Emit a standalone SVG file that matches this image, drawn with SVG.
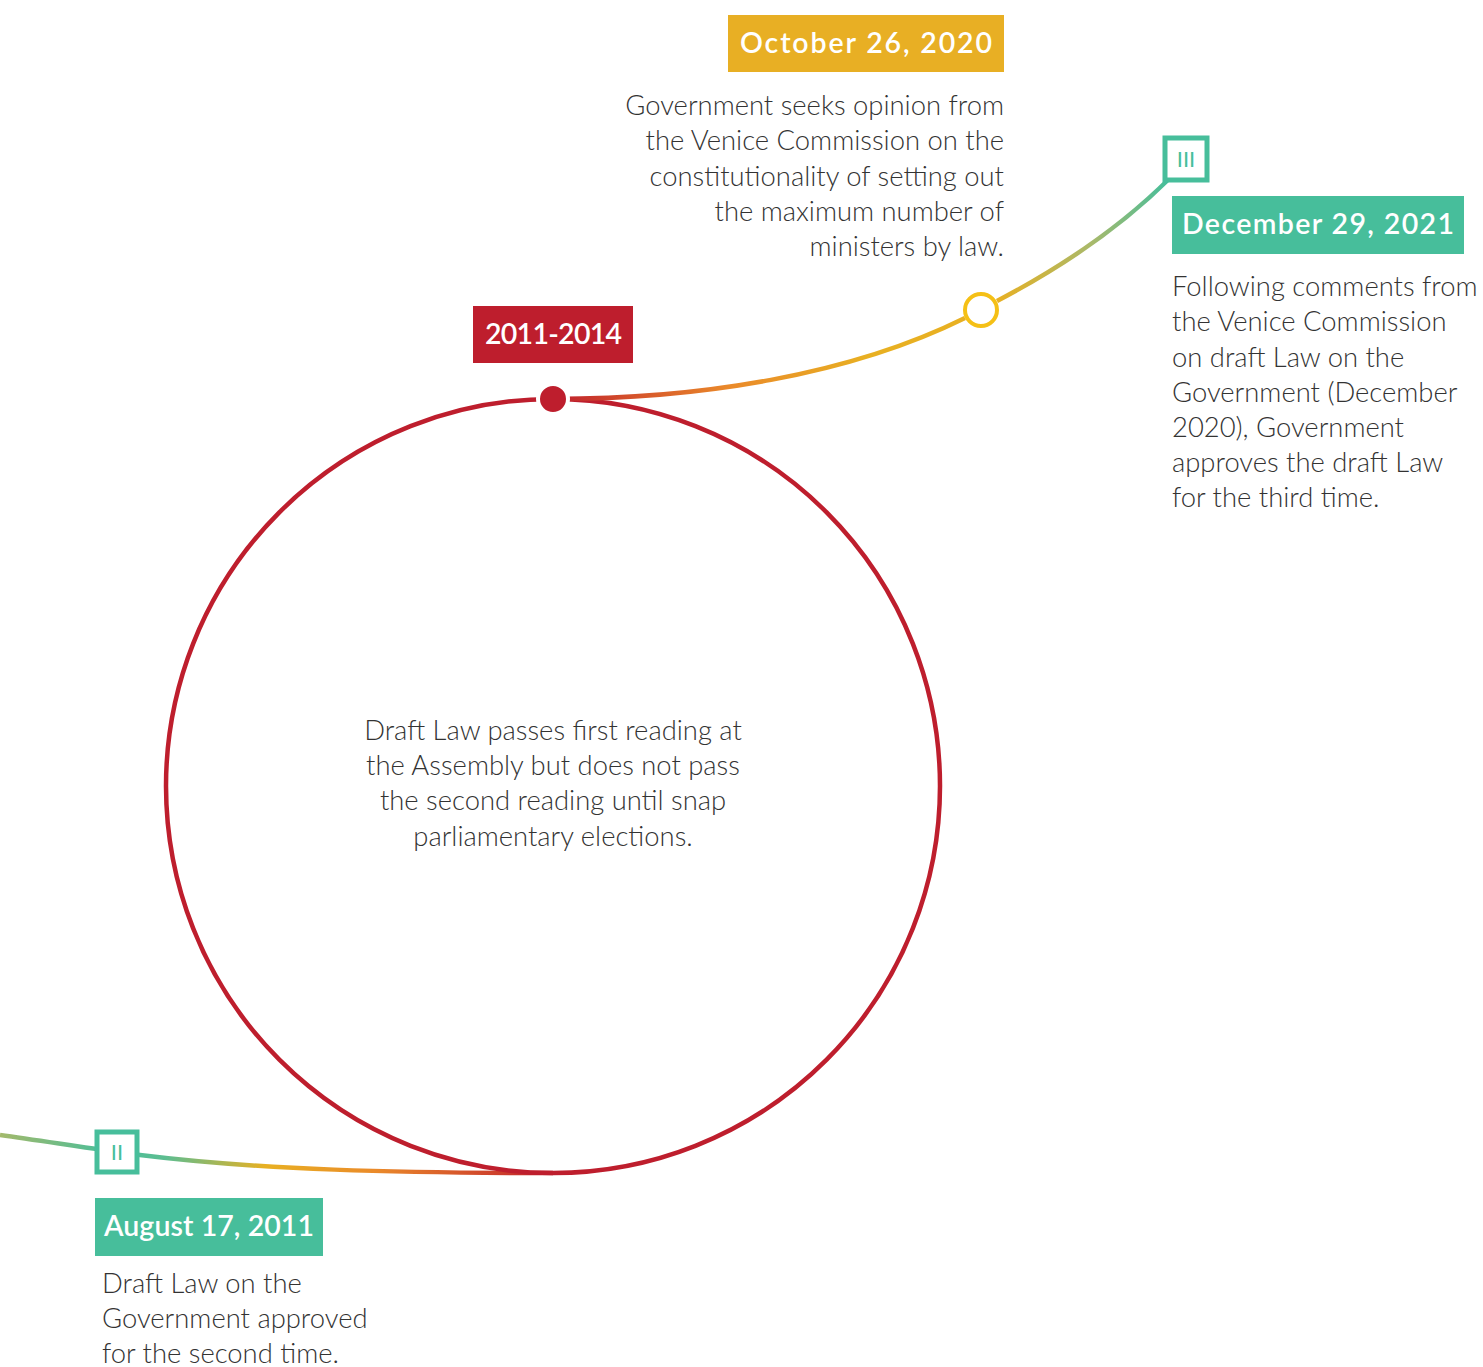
<svg xmlns="http://www.w3.org/2000/svg" width="1483" height="1367" viewBox="0 0 1483 1367">
<defs>
<style>
.body{font-family:Lato,"Open Sans",sans-serif;font-weight:300;font-size:27.4px;fill:#333333}
.lbl{font-family:Lato,"Open Sans",sans-serif;font-weight:600;font-size:28.5px;fill:#ffffff}
.roman{font-family:Lato,"Open Sans",sans-serif;font-weight:400;font-size:22px;fill:#47BE9B}
.box{fill:#ffffff;stroke:#47BE9B;stroke-width:5}
</style>
<linearGradient id="gBot" gradientUnits="userSpaceOnUse" x1="0" y1="0" x2="553" y2="0">
<stop offset="0" stop-color="#a3b96b"/>
<stop offset="0.2" stop-color="#47BE9B"/>
<stop offset="0.3" stop-color="#5dbd90"/>
<stop offset="0.48" stop-color="#E8B022"/>
<stop offset="0.68" stop-color="#EA8A2A"/>
<stop offset="0.85" stop-color="#D4502B"/>
<stop offset="1" stop-color="#BE1E2D"/>
</linearGradient>
<linearGradient id="gTop" gradientUnits="userSpaceOnUse" x1="553" y1="0" x2="1186" y2="0">
<stop offset="0" stop-color="#BE1E2D"/>
<stop offset="0.12" stop-color="#D4502B"/>
<stop offset="0.28" stop-color="#EA8A2A"/>
<stop offset="0.5" stop-color="#E8B022"/>
<stop offset="0.7" stop-color="#E8B022"/>
<stop offset="0.85" stop-color="#a9b96a"/>
<stop offset="0.97" stop-color="#47BE9B"/>
<stop offset="1" stop-color="#47BE9B"/>
</linearGradient>
</defs>
<g id="connectors" fill="none" stroke-width="4.5">
<path d="M0,1135 C50,1142 100,1150 140,1155 C260,1170 400,1173 553,1173" stroke="url(#gBot)"/>
<circle cx="553" cy="786" r="387" stroke="#BE1E2D"/>
<path d="M553,399 C700,399 850,375 965,318 M997,301 C1060,268 1120,228 1170,178" stroke="url(#gTop)"/>
</g>
<g id="node-2011-2014">
<rect x="473" y="306" width="160" height="57" fill="#BE1E2D"/>
<text class="lbl" x="485" y="344" textLength="137" lengthAdjust="spacing">2011-2014</text>
<circle cx="553" cy="399" r="15" fill="#BE1E2D" stroke="#ffffff" stroke-width="4"/>
<text class="body" text-anchor="middle"><tspan x="553" y="740">Draft Law passes first reading at</tspan><tspan x="553" y="775">the Assembly but does not pass</tspan><tspan x="553" y="810">the second reading until snap</tspan><tspan x="553" y="846">parliamentary elections.</tspan></text>
</g>
<g id="node-oct-2020">
<rect x="728" y="15" width="276" height="57" fill="#E8AF24"/>
<text class="lbl" x="740" y="53" textLength="252" lengthAdjust="spacing">October 26, 2020</text>
<circle cx="981" cy="310" r="16" fill="#ffffff" stroke="#F5C016" stroke-width="4"/>
<text class="body" text-anchor="end"><tspan x="1004" y="115">Government seeks opinion from</tspan><tspan x="1004" y="150">the Venice Commission on the</tspan><tspan x="1004" y="186">constitutionality of setting out</tspan><tspan x="1004" y="221">the maximum number of</tspan><tspan x="1004" y="256">ministers by law.</tspan></text>
</g>
<g id="node-dec-2021">
<rect class="box" x="1165" y="138" width="42" height="42"/>
<text class="roman" x="1186" y="167" text-anchor="middle">III</text>
<rect x="1172" y="196" width="292" height="58" fill="#47BE9B"/>
<text class="lbl" x="1182" y="234" textLength="272" lengthAdjust="spacing">December 29, 2021</text>
<text class="body"><tspan x="1172" y="296">Following comments from</tspan><tspan x="1172" y="331">the Venice Commission</tspan><tspan x="1172" y="367">on draft Law on the</tspan><tspan x="1172" y="402">Government (December</tspan><tspan x="1172" y="437">2020), Government</tspan><tspan x="1172" y="472">approves the draft Law</tspan><tspan x="1172" y="507">for the third time.</tspan></text>
</g>
<g id="node-aug-2011">
<rect class="box" x="97" y="1132" width="40" height="40"/>
<text class="roman" x="117" y="1160" text-anchor="middle">II</text>
<rect x="95" y="1198" width="228" height="58" fill="#47BE9B"/>
<text class="lbl" x="104" y="1236" textLength="210" lengthAdjust="spacing">August 17, 2011</text>
<text class="body"><tspan x="102" y="1293">Draft Law on the</tspan><tspan x="102" y="1328">Government approved</tspan><tspan x="102" y="1363">for the second time.</tspan></text>
</g>
</svg>
